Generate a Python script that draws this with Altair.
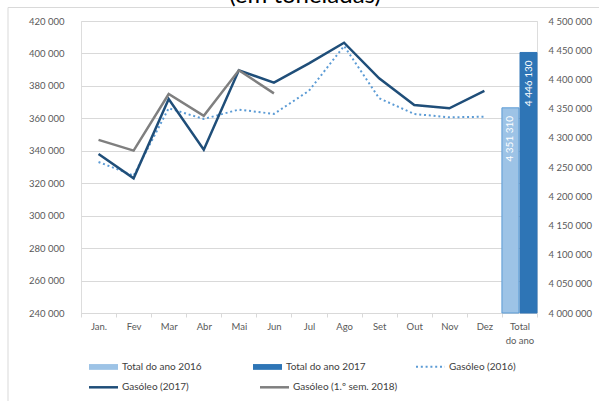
import altair as alt
import pandas as pd

months = ["Jan.", "Fev", "Mar", "Abr", "Mai", "Jun", "Jul", "Ago", "Set", "Out", "Nov", "Dez"]
total_cat = "Total do ano"
categories = months + [total_cat]

gasoleo_2016 = [333100, 324700, 366200, 359600, 365400, 362700, 377000, 404600, 372400, 362700, 360600, 361000]
gasoleo_2017 = [338000, 323000, 371900, 340700, 389600, 382000, 393900, 406600, 384700, 368200, 366200, 376900]
gasoleo_2018 = [346700, 340100, 375000, 361600, 389600, 375400]

totals_series = ["Total do ano 2016", "Total do ano 2017"]
totals_values = [4351310, 4446130]
totals_colors = ["#9dc3e6", "#2e75b6"]

dotted_name = "Gasóleo (2016)"
dotted_color = "#5b9bd5"
solid_names = ["Gasóleo (2017)", "Gasóleo  (1.º sem. 2018)"]
solid_colors = ["#1f4e79", "#7f7f7f"]

left_ticks = [240000, 260000, 280000, 300000, 320000, 340000, 360000, 380000, 400000, 420000]
right_ticks = [4000000, 4050000, 4100000, 4150000, 4200000, 4250000, 4300000,
               4350000, 4400000, 4450000, 4500000]

title_text = "(em toneladas)"

FONT = "Lato"
DOT = [2, 2.8]

# ---------- tables ----------
dotted_df = pd.DataFrame({"cat": months, "value": gasoleo_2016, "series": dotted_name})
solid_df = pd.concat([
    pd.DataFrame({"cat": months, "value": gasoleo_2017, "series": solid_names[0]}),
    pd.DataFrame({"cat": months[:len(gasoleo_2018)], "value": gasoleo_2018, "series": solid_names[1]}),
], ignore_index=True)
bars_df = pd.DataFrame({
    "cat": [total_cat] * len(totals_values),
    "value": totals_values,
    "series": totals_series,
    "label": [f"{v:,}".replace(",", " ") for v in totals_values],
})

space_fmt = "replace(format(datum.value, ','), regexp(',', 'g'), ' ')"

legend_common = dict(title=None, orient="none", direction="horizontal",
                     symbolSize=841, labelFont=FONT, labelFontSize=10,
                     labelColor="#404040", symbolOpacity=1)

legend_bars = alt.Legend(legendX=8, legendY=331.2, columns=2, columnPadding=51,
                         symbolType="M-1,-0.2H1V0.2H-1Z", symbolStrokeWidth=0,
                         labelOffset=4, **legend_common)
legend_dotted = alt.Legend(legendX=334, legendY=330.2, symbolType="stroke",
                           symbolStrokeWidth=2, symbolStrokeColor=dotted_color,
                           symbolDash=DOT, labelOffset=3, **legend_common)
legend_solid = alt.Legend(legendX=6.5, legendY=350.3, columns=2, columnPadding=65,
                          symbolType="stroke", symbolStrokeWidth=2.5,
                          labelOffset=2.5, **legend_common)

x_enc = alt.X(
    "cat:N", sort=categories,
    scale=alt.Scale(domain=categories, paddingInner=0, paddingOuter=0),
    axis=alt.Axis(title=None, labelAngle=0, labelFont=FONT, labelFontSize=9.5,
                  labelColor="#595959", labelPadding=4, tickBand="extent",
                  tickSize=4, tickColor="#d9d9d9", domainColor="#d9d9d9",
                  labelLineHeight=14, labelBaseline="top",
                  labelExpr="datum.label == 'Total do ano' ? ['Total', 'do ano'] : datum.label"),
)

y_left = alt.Y(
    "value:Q",
    scale=alt.Scale(domain=[240000, 420000], nice=False, zero=False),
    axis=alt.Axis(title=None, values=left_ticks, labelExpr=space_fmt, labelFont=FONT,
                  labelFontSize=9.5, labelColor="#595959", labelPadding=17,
                  ticks=False, domain=False, grid=True, gridColor="#d9d9d9",
                  gridWidth=1),
)

one_row = pd.DataFrame({"t": [title_text]})

frame = alt.Chart(one_row).mark_rect(
    fill="white", fillOpacity=0, stroke="#d9d9d9", strokeWidth=1
).encode(x=alt.value(-73), x2=alt.value(540), y=alt.value(-13.5), y2=alt.value(400))

title_mark = alt.Chart(one_row).mark_text(
    font=FONT, fontSize=24, fontWeight="normal", color="#000000",
    align="center", baseline="alphabetic"
).encode(text="t:N", x=alt.value(224), y=alt.value(-18))

dotted = alt.Chart(dotted_df).mark_line(
    strokeWidth=2, color=dotted_color
).encode(x=x_enc, y=y_left,
         strokeDash=alt.StrokeDash("series:N", scale=alt.Scale(domain=[dotted_name], range=[DOT]),
                                   legend=legend_dotted))

solid = alt.Chart(solid_df).mark_line(strokeWidth=2.5, strokeJoin="miter").encode(
    x=x_enc, y=y_left,
    stroke=alt.Stroke("series:N", scale=alt.Scale(domain=solid_names, range=solid_colors),
                      legend=legend_solid),
    detail="series:N",
)

lines = alt.layer(frame, title_mark, dotted, solid)

y_right = alt.Y(
    "value:Q",
    scale=alt.Scale(domain=[4000000, 4500000], nice=False, zero=False),
    axis=alt.Axis(title=None, orient="right", values=right_ticks, labelExpr=space_fmt,
                  labelFont=FONT, labelFontSize=9.5, labelColor="#595959",
                  labelPadding=11, ticks=False, domain=False, grid=False),
)

bar_base = alt.Chart(bars_df).encode(
    x=x_enc,
    xOffset=alt.XOffset("series:N", sort=totals_series,
                        scale=alt.Scale(domain=totals_series, paddingInner=0.06, paddingOuter=0)),
    y=y_right,
)
bars = bar_base.mark_bar(
    strokeWidth=1,
    stroke={"expr": "datum.series == 'Total do ano 2016' ? '#5b9bd5' : '#2e75b6'"},
).encode(
    y2=alt.datum(4000000),
    fill=alt.Fill("series:N", scale=alt.Scale(domain=totals_series, range=totals_colors),
                  legend=legend_bars),
)
bar_text = bar_base.mark_text(
    angle=270, align="right", baseline="middle", dx=-8, color="white",
    font=FONT, fontSize=10,
).encode(text="label:N")

right_layer = alt.layer(bars, bar_text)

chart = alt.layer(right_layer, lines).resolve_scale(y="independent").properties(
    width=456, height=292,
    padding={"left": 81, "top": 21, "right": 62, "bottom": 88},
    autosize=alt.AutoSizeParams(type="none"),
).configure_view(stroke=None).configure(background="white")

chart.save("out.html", embed_options={"renderer": "svg", "actions": False})
